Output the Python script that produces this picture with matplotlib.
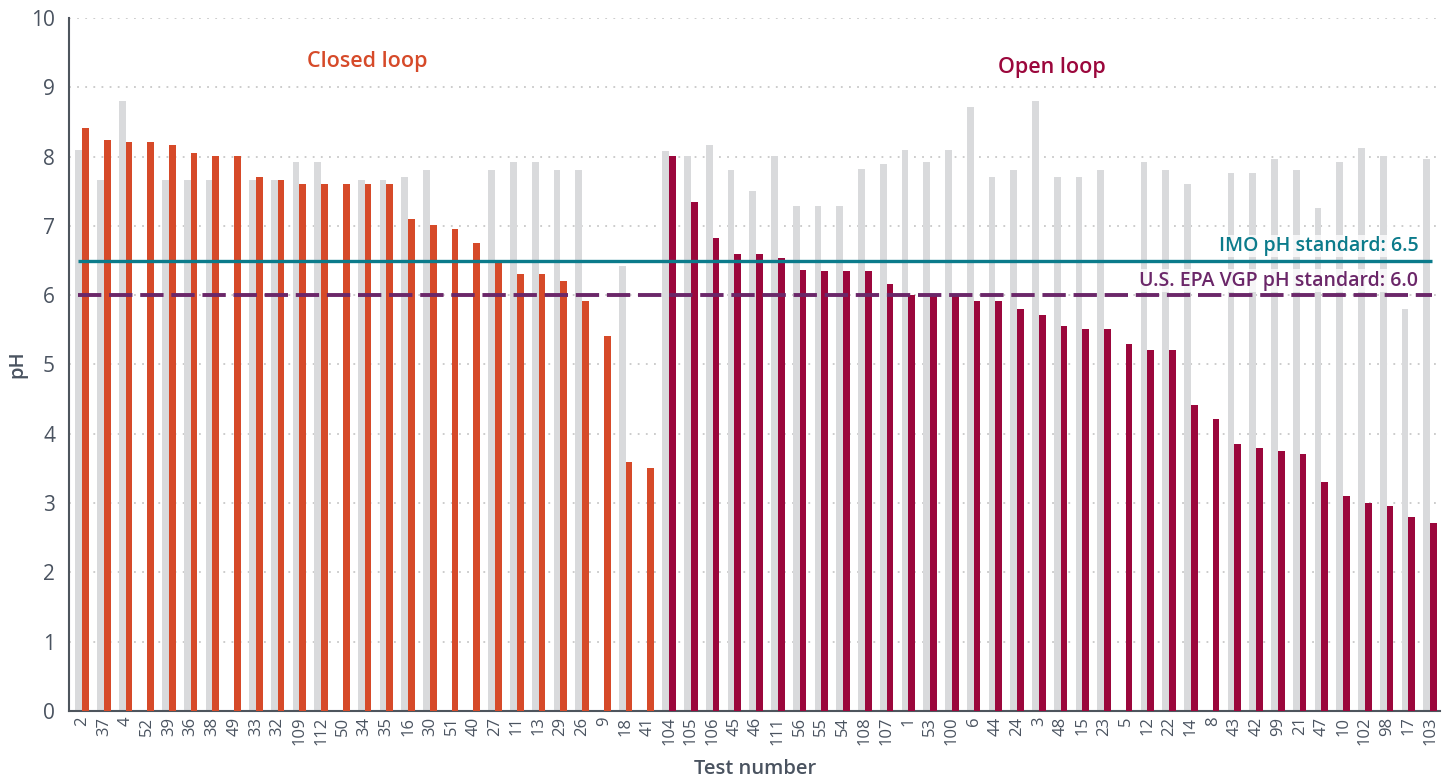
import matplotlib
matplotlib.use("Agg")
import matplotlib.pyplot as plt
import numpy as np

plt.rcParams['font.family'] = ['Open Sans', 'DejaVu Sans']

# test numbers, closed loop first then open loop
tests_closed = ["2", "37", "4", "52", "39", "36", "38", "49", "33", "32", "109", "112", "50", "34",
                "35", "16", "30", "51", "40", "27", "11", "13", "29", "26", "9", "18", "41"]
tests_open = ["104", "105", "106", "45", "46", "111", "56", "55", "54", "108", "107", "1", "53",
              "100", "6", "44", "24", "3", "48", "15", "23", "5", "12", "22", "14", "8", "43",
              "42", "99", "21", "47", "10", "102", "98", "17", "103"]

# grey bars (nan = no bar drawn)
inlet_closed = [8.09, 7.66, 8.80, np.nan, 7.66, 7.66, 7.66, np.nan, 7.66, 7.66, 7.92, 7.92, np.nan,
                7.66, 7.66, 7.71, 7.81, np.nan, np.nan, 7.81, 7.92, 7.92, 7.81, 7.81, np.nan, 6.42, np.nan]
ph_closed = [8.41, 8.24, 8.21, 8.21, 8.17, 8.05, 8.01, 8.01, 7.71, 7.66, 7.60, 7.60, 7.60, 7.60,
             7.60, 7.10, 7.01, 6.95, 6.75, 6.48, 6.31, 6.31, 6.20, 5.92, 5.41, 3.59, 3.51]

inlet_open = [8.08, 8.01, 8.17, 7.81, 7.50, 8.01, 7.29, 7.29, 7.29, 7.82, 7.89, 8.09, 7.92, 8.09,
              8.72, 7.71, 7.81, 8.80, 7.71, 7.71, 7.81, np.nan, 7.92, 7.81, 7.60, np.nan, 7.76,
              7.76, 7.96, 7.81, 7.26, 7.92, 8.12, 8.01, 5.80, 7.96]
ph_open = [8.01, 7.35, 6.83, 6.59, 6.59, 6.54, 6.36, 6.35, 6.35, 6.35, 6.16, 6.00, 6.00, 6.00,
           5.92, 5.92, 5.80, 5.71, 5.56, 5.51, 5.51, 5.30, 5.21, 5.21, 4.42, 4.21, 3.85, 3.79,
           3.75, 3.71, 3.30, 3.10, 3.00, 2.96, 2.80, 2.71]

imo_std = 6.5
epa_std = 6.0

orange = "#d64a29"
crimson = "#9b073c"
grey = "#d9dadc"
teal = "#0b7b8b"
purple = "#6b2769"
txt = "#4a5360"

labels = tests_closed + tests_open
x = np.arange(len(labels))
xc = x[:len(tests_closed)]
xo = x[len(tests_closed):]
w = 0.31

fig, ax = plt.subplots(figsize=(14.52, 7.8), dpi=100)
fig.subplots_adjust(left=0.0475, right=0.992, top=0.977, bottom=0.0885)

for y in range(1, 11):
    ax.axhline(y, color="#c8c8c8", lw=1.3, ls=(0, (1, 3.5)), zorder=0)

ax.bar(xc - w / 2, inlet_closed, w, color=grey, zorder=2)
ax.bar(xo - w / 2, inlet_open, w, color=grey, zorder=2)
ax.bar(xc + w / 2, ph_closed, w, color=orange, zorder=3)
ax.bar(xo + w / 2, ph_open, w, color=crimson, zorder=3)

ax.hlines(imo_std, -0.2, 62.1, color=teal, lw=2.4, zorder=4)
ax.hlines(epa_std, -0.2, 62.1, color=purple, lw=2.8, linestyles=(0, (6, 2)), zorder=4)

ax.text(61.45, 6.71, "IMO pH standard: 6.5", ha="right", va="center", fontsize=14,
        color=teal, fontweight="semibold", zorder=5,
        bbox=dict(facecolor="white", edgecolor="none", alpha=0.75, pad=1))
ax.text(61.45, 6.21, "U.S. EPA VGP pH standard: 6.0", ha="right", va="center", fontsize=14,
        color=purple, fontweight="semibold", zorder=5,
        bbox=dict(facecolor="white", edgecolor="none", alpha=0.75, pad=1))

ax.text(13.1, 9.37, "Closed loop", ha="center", va="center", fontsize=15.5, color=orange, fontweight="semibold")
ax.text(44.6, 9.28, "Open loop", ha="center", va="center", fontsize=15.5, color=crimson, fontweight="semibold")

ax.set_xlim(-0.6, 62.47)
ax.set_ylim(0, 10)
ax.set_yticks(range(0, 11))
ax.set_xticks(x)
ax.set_xticklabels(labels, rotation=90, fontsize=12, color=txt)
ax.tick_params(axis="y", labelsize=15, colors=txt, length=0, pad=10)
ax.tick_params(axis="x", length=0, pad=4)
ax.set_ylabel("pH", fontsize=14.5, color=txt, fontweight="semibold", labelpad=3)
ax.set_xlabel("Test number", fontsize=14.5, color=txt, fontweight="semibold", labelpad=10)

for s in ["top", "right"]:
    ax.spines[s].set_visible(False)
for s in ["left", "bottom"]:
    ax.spines[s].set_color("#4e555d")
    ax.spines[s].set_linewidth(1.5)

fig.savefig("out.png", dpi=100)
